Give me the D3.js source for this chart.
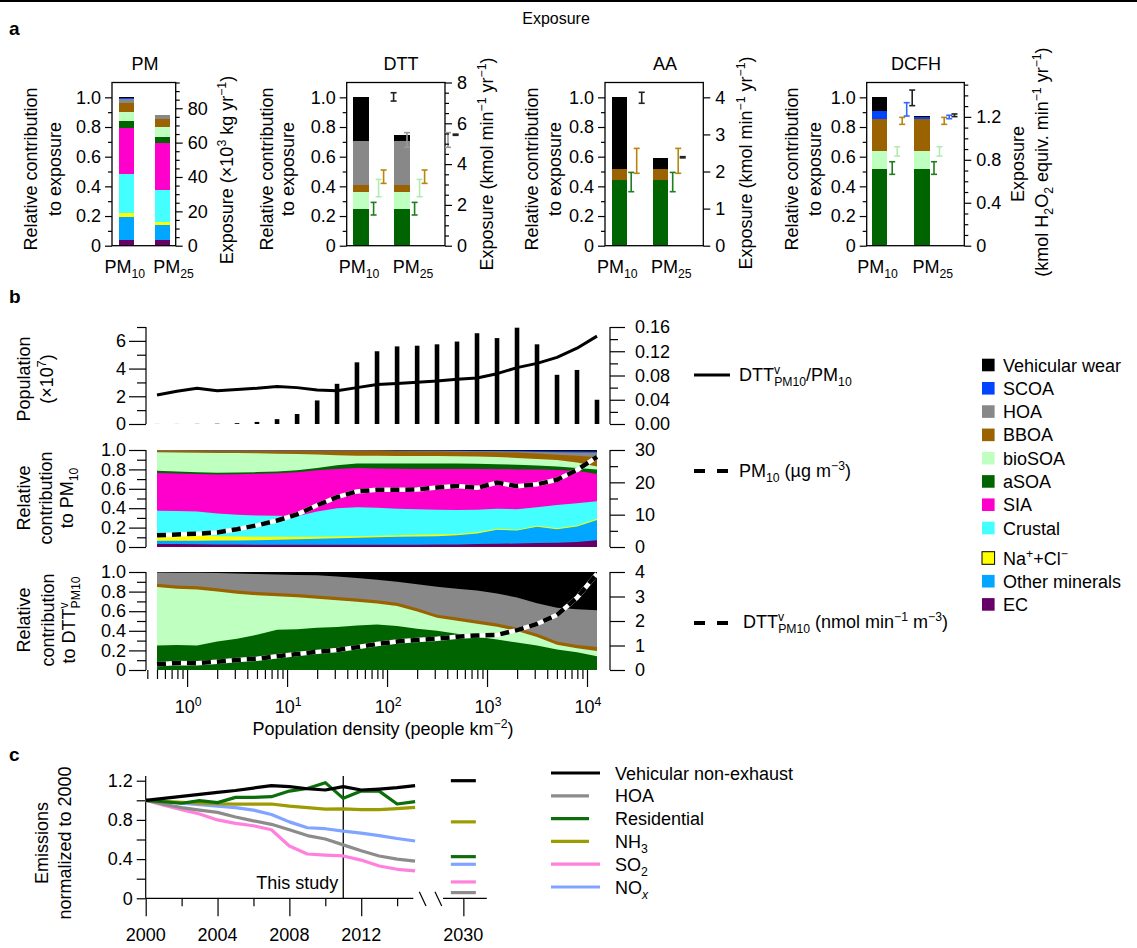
<!DOCTYPE html>
<html>
<head>
<meta charset="utf-8">
<script src="https://cdn.jsdelivr.net/npm/d3@7/dist/d3.min.js"></script>
<style>
html,body{margin:0;padding:0;background:#fff;}
svg{display:block;}
</style>
</head>
<body>
<svg id="chart" width="1137" height="948" xmlns="http://www.w3.org/2000/svg"></svg>
<script>
// ================= DATA =================
// Panel a — exposure bars (relative contribution, stacked bottom → top)
const exposureGroups = ["PM10", "PM25"];
const relTicks = [0, 0.2, 0.4, 0.6, 0.8, 1.0];
const relMinorTicks = [0.1, 0.3, 0.5, 0.7, 0.9];

const pmComponents = ["EC", "Other minerals", "Na+Cl", "Crustal", "SIA", "aSOA", "bioSOA", "BBOA", "HOA", "SCOA", "Vehicular wear"];
const pmSharesPM10 = [0.038, 0.158, 0.022, 0.265, 0.313, 0.047, 0.060, 0.057, 0.027, 0.006, 0.007];
const pmSharesPM25 = [0.038, 0.101, 0.023, 0.213, 0.315, 0.045, 0.063, 0.054, 0.027, 0.002, 0.002];
const pmRightTicks = [0, 20, 40, 60, 80];

const dttComponents = ["aSOA", "bioSOA", "BBOA", "HOA", "Vehicular wear"];
const dttSharesPM10 = [0.247, 0.113, 0.049, 0.299, 0.292];
const dttSharesPM25 = [0.247, 0.113, 0.049, 0.299, 0.040];
const dttErrPM10 = [[0.207, 0.292], [0.330, 0.447], [0.420, 0.510], [0.663, 0.762], [0.975, 1.031]];
const dttErrPM25 = [[0.207, 0.292], [0.330, 0.447], [0.420, 0.510], [0.663, 0.762], [0.744, 0.752]];
const dttRightTicks = [0, 2, 4, 6, 8];

const aaComponents = ["aSOA", "BBOA", "Vehicular wear"];
const aaSharesPM10 = [0.443, 0.072, 0.485];
const aaSharesPM25 = [0.443, 0.072, 0.075];
const aaErrPM10 = [[0.364, 0.494], [0.488, 0.656], [0.960, 1.034]];
const aaErrPM25 = [[0.364, 0.494], [0.488, 0.656], [0.592, 0.600]];
const aaRightTicks = [0, 1, 2, 3, 4];

const dcfhComponents = ["aSOA", "bioSOA", "BBOA", "SCOA", "Vehicular wear"];
const dcfhSharesPM10 = [0.515, 0.123, 0.216, 0.056, 0.090];
const dcfhSharesPM25 = [0.515, 0.123, 0.216, 0.011, 0.010];
const dcfhErrPM10 = [[0.481, 0.566], [0.604, 0.667], [0.818, 0.865], [0.874, 0.964], [0.944, 1.049]];
const dcfhErrPM25 = [[0.481, 0.566], [0.604, 0.667], [0.818, 0.865], [0.856, 0.879], [0.870, 0.888]];
const dcfhRightTicks = [0, 0.4, 0.8, 1.2];

// Panel b — population-density bins
const densityBins = [0.5, 0.79, 1.26, 2.0, 3.16, 5.0, 7.94, 12.6, 20, 31.6, 50, 79.4, 126, 200, 316, 501, 794, 1259, 1995, 3162, 5012, 7943, 12589];
const population = [0.005, 0.005, 0.01, 0.02, 0.06, 0.15, 0.35, 0.72, 1.70, 2.90, 4.45, 5.25, 5.60, 5.65, 5.75, 5.95, 6.55, 6.20, 6.95, 5.75, 3.55, 3.90, 1.75];
const dttPerPM10 = [0.048, 0.054, 0.059, 0.055, 0.057, 0.059, 0.062, 0.060, 0.056, 0.055, 0.060, 0.065, 0.067, 0.069, 0.071, 0.074, 0.076, 0.083, 0.093, 0.100, 0.110, 0.125, 0.145];
const pm10Conc = [3.6, 3.9, 4.1, 4.5, 5.5, 6.7, 8.2, 10.1, 12.9, 15.4, 17.2, 17.7, 17.7, 17.8, 18.4, 18.9, 18.3, 19.9, 18.8, 19.4, 20.8, 23.8, 27.9];
const dttConc = [0.23, 0.29, 0.28, 0.34, 0.41, 0.46, 0.56, 0.65, 0.74, 0.82, 0.93, 1.06, 1.16, 1.22, 1.28, 1.36, 1.41, 1.43, 1.63, 1.88, 2.25, 2.95, 3.93];

// cumulative upper boundaries of each PM10 layer (relative contribution to PM10)
const pm10TopEC      = [0.030, 0.030, 0.028, 0.026, 0.025, 0.024, 0.023, 0.023, 0.022, 0.022, 0.022, 0.022, 0.023, 0.024, 0.025, 0.027, 0.030, 0.033, 0.036, 0.040, 0.045, 0.052, 0.070];
const pm10TopMinerals= [0.065, 0.065, 0.065, 0.066, 0.068, 0.070, 0.074, 0.080, 0.085, 0.090, 0.095, 0.100, 0.105, 0.108, 0.112, 0.120, 0.140, 0.178, 0.170, 0.208, 0.183, 0.212, 0.278];
const pm10TopNaCl    = [0.125, 0.122, 0.118, 0.112, 0.108, 0.105, 0.105, 0.105, 0.105, 0.108, 0.112, 0.117, 0.122, 0.126, 0.130, 0.135, 0.152, 0.188, 0.179, 0.218, 0.193, 0.222, 0.290];
const pm10TopCrustal = [0.375, 0.372, 0.365, 0.345, 0.332, 0.325, 0.322, 0.318, 0.365, 0.400, 0.410, 0.405, 0.395, 0.388, 0.383, 0.382, 0.385, 0.395, 0.390, 0.410, 0.432, 0.452, 0.472];
const pm10TopSIA     = [0.762, 0.758, 0.752, 0.748, 0.750, 0.755, 0.760, 0.770, 0.790, 0.805, 0.815, 0.810, 0.806, 0.805, 0.805, 0.805, 0.803, 0.802, 0.800, 0.798, 0.795, 0.785, 0.753];
const pm10TopASOA    = [0.785, 0.778, 0.770, 0.765, 0.768, 0.772, 0.778, 0.792, 0.815, 0.842, 0.862, 0.862, 0.862, 0.862, 0.862, 0.860, 0.857, 0.853, 0.849, 0.840, 0.829, 0.815, 0.800];
const pm10TopBioSOA  = [0.976, 0.974, 0.972, 0.970, 0.968, 0.966, 0.962, 0.958, 0.953, 0.947, 0.942, 0.940, 0.939, 0.938, 0.937, 0.935, 0.932, 0.928, 0.918, 0.908, 0.897, 0.870, 0.830];
const pm10TopBBOA    = [0.995, 0.994, 0.994, 0.993, 0.993, 0.992, 0.992, 0.992, 0.993, 0.993, 0.992, 0.991, 0.990, 0.988, 0.986, 0.983, 0.980, 0.977, 0.973, 0.963, 0.952, 0.940, 0.925];
const pm10TopHOA     = [0.997, 0.997, 0.996, 0.996, 0.995, 0.995, 0.995, 0.995, 0.995, 0.995, 0.995, 0.994, 0.993, 0.992, 0.991, 0.990, 0.988, 0.986, 0.984, 0.980, 0.976, 0.975, 0.975];
const pm10TopSCOA    = [0.999, 0.999, 0.998, 0.998, 0.997, 0.997, 0.997, 0.997, 0.997, 0.997, 0.997, 0.996, 0.996, 0.995, 0.995, 0.994, 0.993, 0.992, 0.991, 0.989, 0.987, 0.986, 0.985];

// cumulative upper boundaries of each layer (relative contribution to DTTv PM10)
const dttTopASOA   = [0.250, 0.255, 0.250, 0.290, 0.320, 0.360, 0.410, 0.415, 0.430, 0.440, 0.455, 0.465, 0.450, 0.420, 0.400, 0.370, 0.340, 0.310, 0.280, 0.250, 0.210, 0.180, 0.140];
const dttTopBioSOA = [0.847, 0.829, 0.822, 0.802, 0.777, 0.762, 0.752, 0.742, 0.727, 0.712, 0.697, 0.679, 0.652, 0.597, 0.532, 0.502, 0.472, 0.442, 0.397, 0.337, 0.257, 0.222, 0.195];
const dttTopBBOA   = [0.880, 0.862, 0.855, 0.835, 0.810, 0.795, 0.785, 0.775, 0.760, 0.745, 0.730, 0.712, 0.685, 0.630, 0.565, 0.535, 0.505, 0.475, 0.430, 0.370, 0.290, 0.255, 0.235];
const dttTopHOA    = [0.995, 0.993, 0.992, 0.990, 0.985, 0.980, 0.975, 0.970, 0.966, 0.955, 0.940, 0.920, 0.900, 0.875, 0.850, 0.830, 0.810, 0.780, 0.740, 0.680, 0.635, 0.620, 0.610];

const popTicks = [0, 2, 4, 6];
const popMinorTicks = [1, 3, 5, 7];
const ratioTicks = [0, 0.04, 0.08, 0.12, 0.16];
const ratioMinorTicks = [0.02, 0.06, 0.10, 0.14];
const pmConcTicks = [0, 10, 20, 30];
const pmConcMinorTicks = [5, 15, 25];
const dttConcTicks = [0, 1, 2, 3, 4];
const decadeTicks = [1, 10, 100, 1000, 10000];

// Panel c — emissions normalised to 2000
const years = [2000, 2001, 2002, 2003, 2004, 2005, 2006, 2007, 2008, 2009, 2010, 2011, 2012, 2013, 2014, 2015];
const emissionSeries = ["Vehicular non-exhaust", "HOA", "Residential", "NH3", "SO2", "NOx"];
const vehNonExhaust = [1.00, 1.02, 1.04, 1.06, 1.08, 1.10, 1.125, 1.149, 1.139, 1.118, 1.105, 1.139, 1.105, 1.115, 1.129, 1.149];
const hoaEmis       = [1.00, 0.96, 0.925, 0.90, 0.877, 0.83, 0.79, 0.755, 0.70, 0.64, 0.605, 0.545, 0.485, 0.432, 0.40, 0.38];
const residential   = [1.00, 0.985, 0.97, 0.996, 0.976, 1.03, 1.03, 1.037, 1.094, 1.12, 1.18, 1.02, 1.094, 1.094, 0.962, 0.986];
const nh3Emis       = [1.00, 0.99, 0.98, 0.97, 0.965, 0.96, 0.96, 0.962, 0.94, 0.925, 0.91, 0.912, 0.905, 0.905, 0.915, 0.928];
const so2Emis       = [1.00, 0.95, 0.905, 0.86, 0.80, 0.765, 0.74, 0.70, 0.534, 0.452, 0.44, 0.432, 0.39, 0.33, 0.296, 0.28];
const noxEmis       = [1.00, 0.985, 0.97, 0.955, 0.94, 0.925, 0.90, 0.855, 0.78, 0.72, 0.71, 0.685, 0.665, 0.64, 0.61, 0.585];
const projection2030 = [1.20, 0.058, 0.425, 0.78, 0.167, 0.347];  // same order as emissionSeries
const yearTicks = [2000, 2002, 2004, 2006, 2008, 2010, 2012, 2014];
const yearLabels = [2000, 2004, 2008, 2012];
const emisTicks = [0, 0.4, 0.8, 1.2];
const emisMinorTicks = [0.2, 0.6, 1.0];
const studyYear = 2011;

// ================= STYLE =================
const FAM = '"Liberation Sans", Arial, Helvetica, sans-serif';
const FS = 18;
const COLORS = {
  "Vehicular wear": "#000000", "SCOA": "#0044ff", "HOA": "#888888", "BBOA": "#9a6200",
  "bioSOA": "#bfffbf", "aSOA": "#006400", "SIA": "#ff00cc", "Crustal": "#44ffff",
  "Na+Cl": "#ffff00", "Other minerals": "#00a6ff", "EC": "#660066"
};
const ERRCOL = { "aSOA": "#1f7f1f", "bioSOA": "#b0ecb0", "BBOA": "#b8860b", "HOA": "#999999", "SCOA": "#3366ff", "Vehicular wear": "#222222" };
const EMCOL = { "Vehicular non-exhaust": "#000000", "HOA": "#8c8c8c", "Residential": "#0b6e0b", "NH3": "#9c9c00", "SO2": "#ff80dd", "NOx": "#80a4ff" };

const svg = d3.select("#chart");

// ================= HELPERS =================
function rich(t, parts, fs) {
  let cur = 0;
  parts.forEach(p => {
    const s = p[0], type = p[1] || "", dx = p[2];
    const sup = type.includes("sup"), sub = type.includes("sub"), it = type.includes("it");
    const target = sup ? -0.38 * fs : sub ? 0.30 * fs : 0;
    const ts = t.append("tspan").text(s);
    if (target - cur !== 0) ts.attr("dy", target - cur);
    if (sup || sub) ts.attr("font-size", fs * 0.68);
    if (it) ts.attr("font-style", "italic");
    if (dx) ts.attr("dx", dx);
    cur = target;
  });
  return t;
}
function txt(x, y, parts, o = {}) {
  const fs = o.fs || FS;
  const t = svg.append("text").attr("x", x).attr("y", y).attr("font-size", fs)
    .attr("font-family", FAM).attr("fill", "#000");
  if (o.anchor) t.attr("text-anchor", o.anchor);
  if (o.rot) t.attr("transform", `rotate(${o.rot},${x},${y})`);
  if (o.bold) t.attr("font-weight", "bold");
  if (typeof parts === "string") t.text(parts); else rich(t, parts, fs);
  return t;
}
function makeAxis(orient, scale, vals, size, pad, fmt, tx, ty) {
  const fn = orient === "left" ? d3.axisLeft : orient === "right" ? d3.axisRight : d3.axisBottom;
  const ag = svg.append("g").attr("transform", `translate(${tx || 0},${ty || 0})`)
    .call(fn(scale).tickValues(vals).tickSize(size).tickPadding(pad).tickFormat(fmt || (() => "")));
  ag.select(".domain").remove();
  ag.attr("font-family", FAM).attr("font-size", FS);
  ag.selectAll(".tick line").attr("stroke", "#000").attr("stroke-width", 1.2);
  ag.selectAll(".tick text").attr("fill", "#000");
  return ag;
}
function line(x1, y1, x2, y2, w, c) {
  return svg.append("line").attr("x1", x1).attr("y1", y1).attr("x2", x2).attr("y2", y2)
    .attr("stroke", c || "#000").attr("stroke-width", w || 1.2);
}
const fmtRel = d => d === 0 ? "0" : d3.format(".1f")(d);

// ================= HEADER =================
line(0, 1, 1137, 1, 2);
txt(9, 35, "a", { bold: true, fs: 19 });
txt(556, 24, "Exposure", { anchor: "middle", fs: 16 });

// ================= PANEL a =================
const yTop = 82.5, yBot = 245.7;
const yRel = d3.scaleLinear().domain([0, 1.1]).range([yBot, yTop]);

const panelsA = [
  { title: "PM", tx: 145, x0: 112, x1: 175.7, bs: 119.3, step: 35.7, bw: 15,
    comps: pmComponents, s: [pmSharesPM10, pmSharesPM25], e: null,
    rmax: 95, rt: pmRightTicks, rminor: d3.range(5, 96, 5).filter(v => v % 20 !== 0), rfmt: d => d,
    lx: [31, 56], rl: [{ x: 227, y: 170, parts: [["Exposure (×10"], ["3", "sup"], [" kg yr"], ["−1", "sup"], [")"]] }] },
  { title: "DTT", tx: 401, x0: 346.7, x1: 445, bs: 353.3, step: 41, bw: 15.3,
    comps: dttComponents, s: [dttSharesPM10, dttSharesPM25], e: [dttErrPM10, dttErrPM25],
    off: [{ "aSOA": 5, "bioSOA": 10, "BBOA": 15, "Vehicular wear": 25, "HOA": 38.4 },
          { "aSOA": 5, "bioSOA": 10, "BBOA": 15, "Vehicular wear": 46, "HOA": 38.4 }],
    rmax: 8, rt: dttRightTicks, rminor: d3.range(0.5, 8, 0.5).filter(v => v % 2 !== 0), rfmt: d => d,
    lx: [267, 289], rl: [{ x: 487, y: 164, parts: [["Exposure (kmol min"], ["−1", "sup"], [" yr"], ["−1", "sup"], [")"]] }] },
  { title: "AA", tx: 665, x0: 605, x1: 703.3, bs: 611.7, step: 41, bw: 15,
    comps: aaComponents, s: [aaSharesPM10, aaSharesPM25], e: [aaErrPM10, aaErrPM25],
    off: [{ "aSOA": 4.5, "BBOA": 10, "Vehicular wear": 15 }, { "aSOA": 5, "BBOA": 10.5, "Vehicular wear": 15 }],
    rmax: 4.4, rt: aaRightTicks, rminor: [], rfmt: d => d,
    lx: [532, 556], rl: [{ x: 746, y: 163, parts: [["Exposure (kmol min"], ["−1", "sup"], [" yr"], ["−1", "sup"], [")"]] }] },
  { title: "DCFH", tx: 916, x0: 866.7, x1: 964.3, bs: 871.7, step: 42.3, bw: 15.5,
    comps: dcfhComponents, s: [dcfhSharesPM10, dcfhSharesPM25], e: [dcfhErrPM10, dcfhErrPM25],
    off: [{ "aSOA": 5, "bioSOA": 10, "BBOA": 15, "SCOA": 19.5, "Vehicular wear": 25 },
          { "aSOA": 4.5, "bioSOA": 10, "BBOA": 14.7, "SCOA": 19.7, "Vehicular wear": 25 }],
    rmax: 1.52, rt: dcfhRightTicks, rminor: [0.1, 0.2, 0.3, 0.5, 0.6, 0.7, 0.9, 1.0, 1.1, 1.3, 1.4, 1.5],
    rfmt: d => d === 0 ? "0" : d3.format(".1f")(d),
    lx: [792, 816], rl: [
      { x: 1018, y: 164, parts: [["Exposure"]] },
      { x: 1042, y: 162, parts: [["(kmol H"], ["2", "sub"], ["O"], ["2", "sub"], [" equiv. min"], ["−1", "sup"], [" yr"], ["−1", "sup"], [")"]] }] }
];

panelsA.forEach(p => {
  const yR = d3.scaleLinear().domain([0, p.rmax]).range([yBot, yTop]);
  const xb = d3.scaleBand().domain(exposureGroups).range([p.bs, p.bs + p.step + p.bw])
    .paddingInner(1 - p.bw / p.step).paddingOuter(0);
  // stacked bars
  exposureGroups.forEach((grp, gi) => {
    let acc = 0;
    p.s[gi].forEach((v, i) => {
      svg.append("rect").attr("x", xb(grp)).attr("width", xb.bandwidth())
        .attr("y", yRel(acc + v)).attr("height", yRel(acc) - yRel(acc + v))
        .attr("fill", COLORS[p.comps[i]]).attr("shape-rendering", "crispEdges");
      acc += v;
    });
  });
  // frame
  svg.append("rect").attr("x", p.x0).attr("y", yTop).attr("width", p.x1 - p.x0).attr("height", yBot - yTop)
    .attr("fill", "none").attr("stroke", "#000").attr("stroke-width", 1.3);
  // error bars
  if (p.e) {
    exposureGroups.forEach((grp, gi) => {
      p.e[gi].forEach((e, i) => {
        const comp = p.comps[i];
        const x = xb(grp) + xb.bandwidth() + p.off[gi][comp];
        const c = ERRCOL[comp];
        line(x, yRel(e[0]), x, yRel(e[1]), 1.6, c);
        line(x - 3, yRel(e[0]), x + 3, yRel(e[0]), 1.6, c);
        line(x - 3, yRel(e[1]), x + 3, yRel(e[1]), 1.6, c);
      });
    });
  }
  // axes
  makeAxis("left", yRel, relMinorTicks, 4, 0, null, p.x0);
  makeAxis("left", yRel, relTicks, 7, 4, fmtRel, p.x0);
  if (p.rminor.length) makeAxis("right", yR, p.rminor, 4, 0, null, p.x1);
  makeAxis("right", yR, p.rt, 7, 5, p.rfmt, p.x1);
  // title
  txt(p.tx, 70, p.title, { anchor: "middle" });
  // x labels
  txt(xb("PM10") + xb.bandwidth() / 2 - 2, 273, [["PM"], ["10", "sub"]], { anchor: "middle" });
  txt(xb("PM25") + xb.bandwidth() / 2 + 11, 273, [["PM"], ["25", "sub"]], { anchor: "middle" });
  // y labels
  txt(p.lx[0] + 6, 169, "Relative contribution", { anchor: "middle", rot: -90 });
  txt(p.lx[1] + 5, 169, "to exposure", { anchor: "middle", rot: -90 });
  p.rl.forEach(r => txt(r.x + 6, r.y, r.parts, { anchor: "middle", rot: -90 }));
});

// ================= PANEL b =================
txt(9, 303, "b", { bold: true, fs: 19 });
const xAx = 146, xAxR = 610;
const xd = d3.scaleLog().domain([densityBins[0], densityBins[densityBins.length - 1]]).range([157, 597]);

// --- top: population + DTT/PM10 ratio
const yPop = d3.scaleLinear().domain([0, 7]).range([424, 327]);
const yRat = d3.scaleLinear().domain([0, 0.16]).range([424, 327]);
svg.append("g").selectAll("rect").data(population).join("rect")
  .attr("x", (d, k) => xd(densityBins[k]) - 2.3).attr("width", 4.6)
  .attr("y", d => yPop(d)).attr("height", d => yPop(0) - yPop(d)).attr("fill", "#000");
svg.append("path").datum(dttPerPM10)
  .attr("d", d3.line().x((d, k) => xd(densityBins[k])).y(d => yRat(d)))
  .attr("fill", "none").attr("stroke", "#000").attr("stroke-width", 3).attr("stroke-linejoin", "round");
line(xAx, yPop(0), xAx, yPop(7));
line(xAxR, yRat(0), xAxR, yRat(0.16));
makeAxis("left", yPop, popMinorTicks, 9, 0, null, xAx);
makeAxis("left", yPop, popTicks, 17, 3, d => d, xAx);
makeAxis("right", yRat, ratioMinorTicks, 8, 0, null, xAxR);
makeAxis("right", yRat, ratioTicks, 15, 10, d3.format(".2f"), xAxR);
txt(24 + 6, 379, "Population", { anchor: "middle", rot: -90 });
txt(47 + 6, 379, [["(×10"], ["7", "sup"], [")"]], { anchor: "middle", rot: -90 });

// --- stacked areas helper
function stackedPanel(layers, tops, yS) {
  for (let i = layers.length - 1; i >= 0; i--) {
    const top = i < tops.length ? tops[i] : null;
    const area = d3.area().x((d, k) => xd(densityBins[k])).y0(yS(0))
      .y1((d, k) => top ? yS(top[k]) : yS(1));
    svg.append("path").datum(densityBins).attr("d", area).attr("fill", COLORS[layers[i]]);
  }
}
function dashedLine(values, yS) {
  const gen = d3.line().x((d, k) => xd(densityBins[k])).y(d => yS(d));
  svg.append("path").datum(values).attr("d", gen).attr("fill", "none")
    .attr("stroke", "#fff").attr("stroke-width", 4.5).attr("stroke-linejoin", "round");
  svg.append("path").datum(values).attr("d", gen).attr("fill", "none")
    .attr("stroke", "#000").attr("stroke-width", 4.5).attr("stroke-dasharray", "9,6");
}

// --- middle: PM10 composition
const yF1 = d3.scaleLinear().domain([0, 1]).range([547, 450]);
const yPM = d3.scaleLinear().domain([0, 30]).range([547, 450]);
stackedPanel(pmComponents,
  [pm10TopEC, pm10TopMinerals, pm10TopNaCl, pm10TopCrustal, pm10TopSIA, pm10TopASOA, pm10TopBioSOA, pm10TopBBOA, pm10TopHOA, pm10TopSCOA],
  yF1);
dashedLine(pm10Conc, yPM);
line(xAx, yF1(0), xAx, yF1(1));
line(xAxR, yPM(0), xAxR, yPM(30));
makeAxis("left", yF1, relMinorTicks, 9, 0, null, xAx);
makeAxis("left", yF1, relTicks, 17, 3, fmtRel, xAx);
makeAxis("right", yPM, pmConcMinorTicks, 8, 0, null, xAxR);
makeAxis("right", yPM, pmConcTicks, 15, 10, d => d, xAxR);
txt(24 + 6, 498, "Relative", { anchor: "middle", rot: -90 });
txt(46 + 6, 498, "contribution", { anchor: "middle", rot: -90 });
txt(67 + 6, 498, [["to PM"], ["10", "sub"]], { anchor: "middle", rot: -90 });

// --- bottom: DTT composition
const yF2 = d3.scaleLinear().domain([0, 1]).range([670, 572]);
const yDT = d3.scaleLinear().domain([0, 4]).range([670, 572]);
stackedPanel(dttComponents, [dttTopASOA, dttTopBioSOA, dttTopBBOA, dttTopHOA], yF2);
dashedLine(dttConc, yDT);
line(xAx, yF2(0), xAx, yF2(1));
line(xAxR, yDT(0), xAxR, yDT(4));
makeAxis("left", yF2, relMinorTicks, 9, 0, null, xAx);
makeAxis("left", yF2, relTicks, 17, 3, fmtRel, xAx);
makeAxis("right", yDT, dttConcTicks, 15, 10, d => d, xAxR);
txt(24 + 6, 620, "Relative", { anchor: "middle", rot: -90 });
txt(48 + 6, 620, "contribution", { anchor: "middle", rot: -90 });
txt(69 + 6, 620, [["to DTT"], ["v", "sup"], ["PM10", "sub", -6]], { anchor: "middle", rot: -90 });

// x axis (log)
const logMinor = [];
[-1, 0, 1, 2, 3, 4].forEach(e => [2, 3, 4, 5, 6, 7, 8, 9].forEach(m => {
  const v = m * Math.pow(10, e);
  if (xd(v) >= xAx && xd(v) <= 598) logMinor.push(v);
}));
makeAxis("bottom", xd, logMinor, 9, 0, null, 0, 670);
makeAxis("bottom", xd, decadeTicks, 17, 0, null, 0, 670);
decadeTicks.forEach(v => {
  txt(xd(v) + 1, 713, [["10"], [String(Math.round(Math.log10(v))), "sup"]], { anchor: "middle" });
});
txt(383, 735, [["Population density (people km"], ["−2", "sup"], [")"]], { anchor: "middle" });

// b legends (lines)
line(694, 375, 730, 375, 3);
txt(739, 381, [["DTT"], ["v", "sup"], ["PM10", "sub", -6], ["/PM"], ["10", "sub"]]);
svg.append("line").attr("x1", 694).attr("x2", 728).attr("y1", 471).attr("y2", 471)
  .attr("stroke", "#000").attr("stroke-width", 4).attr("stroke-dasharray", "11,12");
txt(739, 477, [["PM"], ["10", "sub"], [" (µg m"], ["−3", "sup"], [")"]]);
svg.append("line").attr("x1", 694).attr("x2", 728).attr("y1", 623).attr("y2", 623)
  .attr("stroke", "#000").attr("stroke-width", 4).attr("stroke-dasharray", "11,12");
txt(743, 628, [["DTT"], ["v", "sup"], ["PM10", "sub", -6], [" (nmol min"], ["−1", "sup"], [" m"], ["−3", "sup"], [")"]]);

// colour legend
const legendItems = ["Vehicular wear", "SCOA", "HOA", "BBOA", "bioSOA", "aSOA", "SIA", "Crustal", "Na+Cl", "Other minerals", "EC"];
const legendY = d3.scalePoint().domain(legendItems.slice(0, 8)).range([365, 528]);
legendItems.forEach((name, i) => {
  const yc = i < 8 ? legendY(name) : 558 + (i - 8) * 23.2;
  const r = svg.append("rect").attr("x", 982).attr("y", yc - 6.3).attr("width", 12.6).attr("height", 12.6)
    .attr("fill", COLORS[name]);
  if (name === "Na+Cl") r.attr("stroke", "#000").attr("stroke-width", 1);
  const parts = name === "Na+Cl" ? [["Na"], ["+", "sup"], ["+Cl"], ["−", "sup"]] : name;
  txt(1003, yc + 6.5, parts);
});

// ================= PANEL c =================
txt(9, 761, "c", { bold: true, fs: 19 });
const xc = d3.scaleLinear().domain([years[0], years[years.length - 1]]).range([145.7, 415.1]);
const xc2 = d3.scaleLinear().domain([2029, 2031]).range([445.4, 481.3]);
const yc = d3.scaleLinear().domain([0, 1.2]).range([898.3, 780.7]);
const emissionData = [vehNonExhaust, hoaEmis, residential, nh3Emis, so2Emis, noxEmis];

// axes
line(145.7, 776, 145.7, yc(0));
line(145.7, yc(0), 413.3, yc(0));
line(443, yc(0), 486.8, yc(0));
line(419.3, 891.7, 426, 906);
line(435, 891.7, 441.7, 906);
makeAxis("left", yc, emisMinorTicks, 9, 0, null, 145.7);
makeAxis("left", yc, emisTicks, 9, 4, d => d === 0 ? "0" : d3.format(".1f")(d), 145.7);
makeAxis("bottom", xc, yearTicks.filter(v => !yearLabels.includes(v)), 8, 0, null, 0, yc(0));
makeAxis("bottom", xc, yearLabels, 18, 0, null, 0, yc(0));
makeAxis("bottom", xc2, [2030], 18, 0, null, 0, yc(0));
yearLabels.forEach(v => txt(xc(v), 941, String(v), { anchor: "middle" }));
txt(xc2(2030), 941, "2030", { anchor: "middle" });

// study line
line(xc(studyYear), 776, xc(studyYear), yc(0), 1.3);
txt(xc(studyYear) - 5, 889, "This study", { anchor: "end" });

// series lines (draw order: lighter first, black last)
const drawOrder = [5, 4, 1, 3, 2, 0];
drawOrder.forEach(i => {
  svg.append("path").datum(emissionData[i])
    .attr("d", d3.line().x((d, k) => xc(years[k])).y(d => yc(d)))
    .attr("fill", "none").attr("stroke", EMCOL[emissionSeries[i]]).attr("stroke-width", 3.2)
    .attr("stroke-linejoin", "round");
});
projection2030.forEach((v, i) => {
  line(xc2(2030) - 12.5, yc(v), xc2(2030) + 12.5, yc(v), 3.2, EMCOL[emissionSeries[i]]);
});

txt(42 + 6, 843, "Emissions", { anchor: "middle", rot: -90 });
txt(65 + 6, 843, "normalized to 2000", { anchor: "middle", rot: -90 });

// c legend
const cLegendParts = [
  [["Vehicular non-exhaust"]], [["HOA"]], [["Residential"]],
  [["NH"], ["3", "sub"]], [["SO"], ["2", "sub"]], [["NO"], ["x", "sub it"]]
];
const cLegendLen = [49, 38, 38, 38, 49, 49];
emissionSeries.forEach((s, i) => {
  const y = 773 + i * 22.8;
  line(551, y, 551 + cLegendLen[i], y, 3.2, EMCOL[s]);
  txt(615, y + 6.5, cLegendParts[i]);
});
</script>
</body>
</html>
